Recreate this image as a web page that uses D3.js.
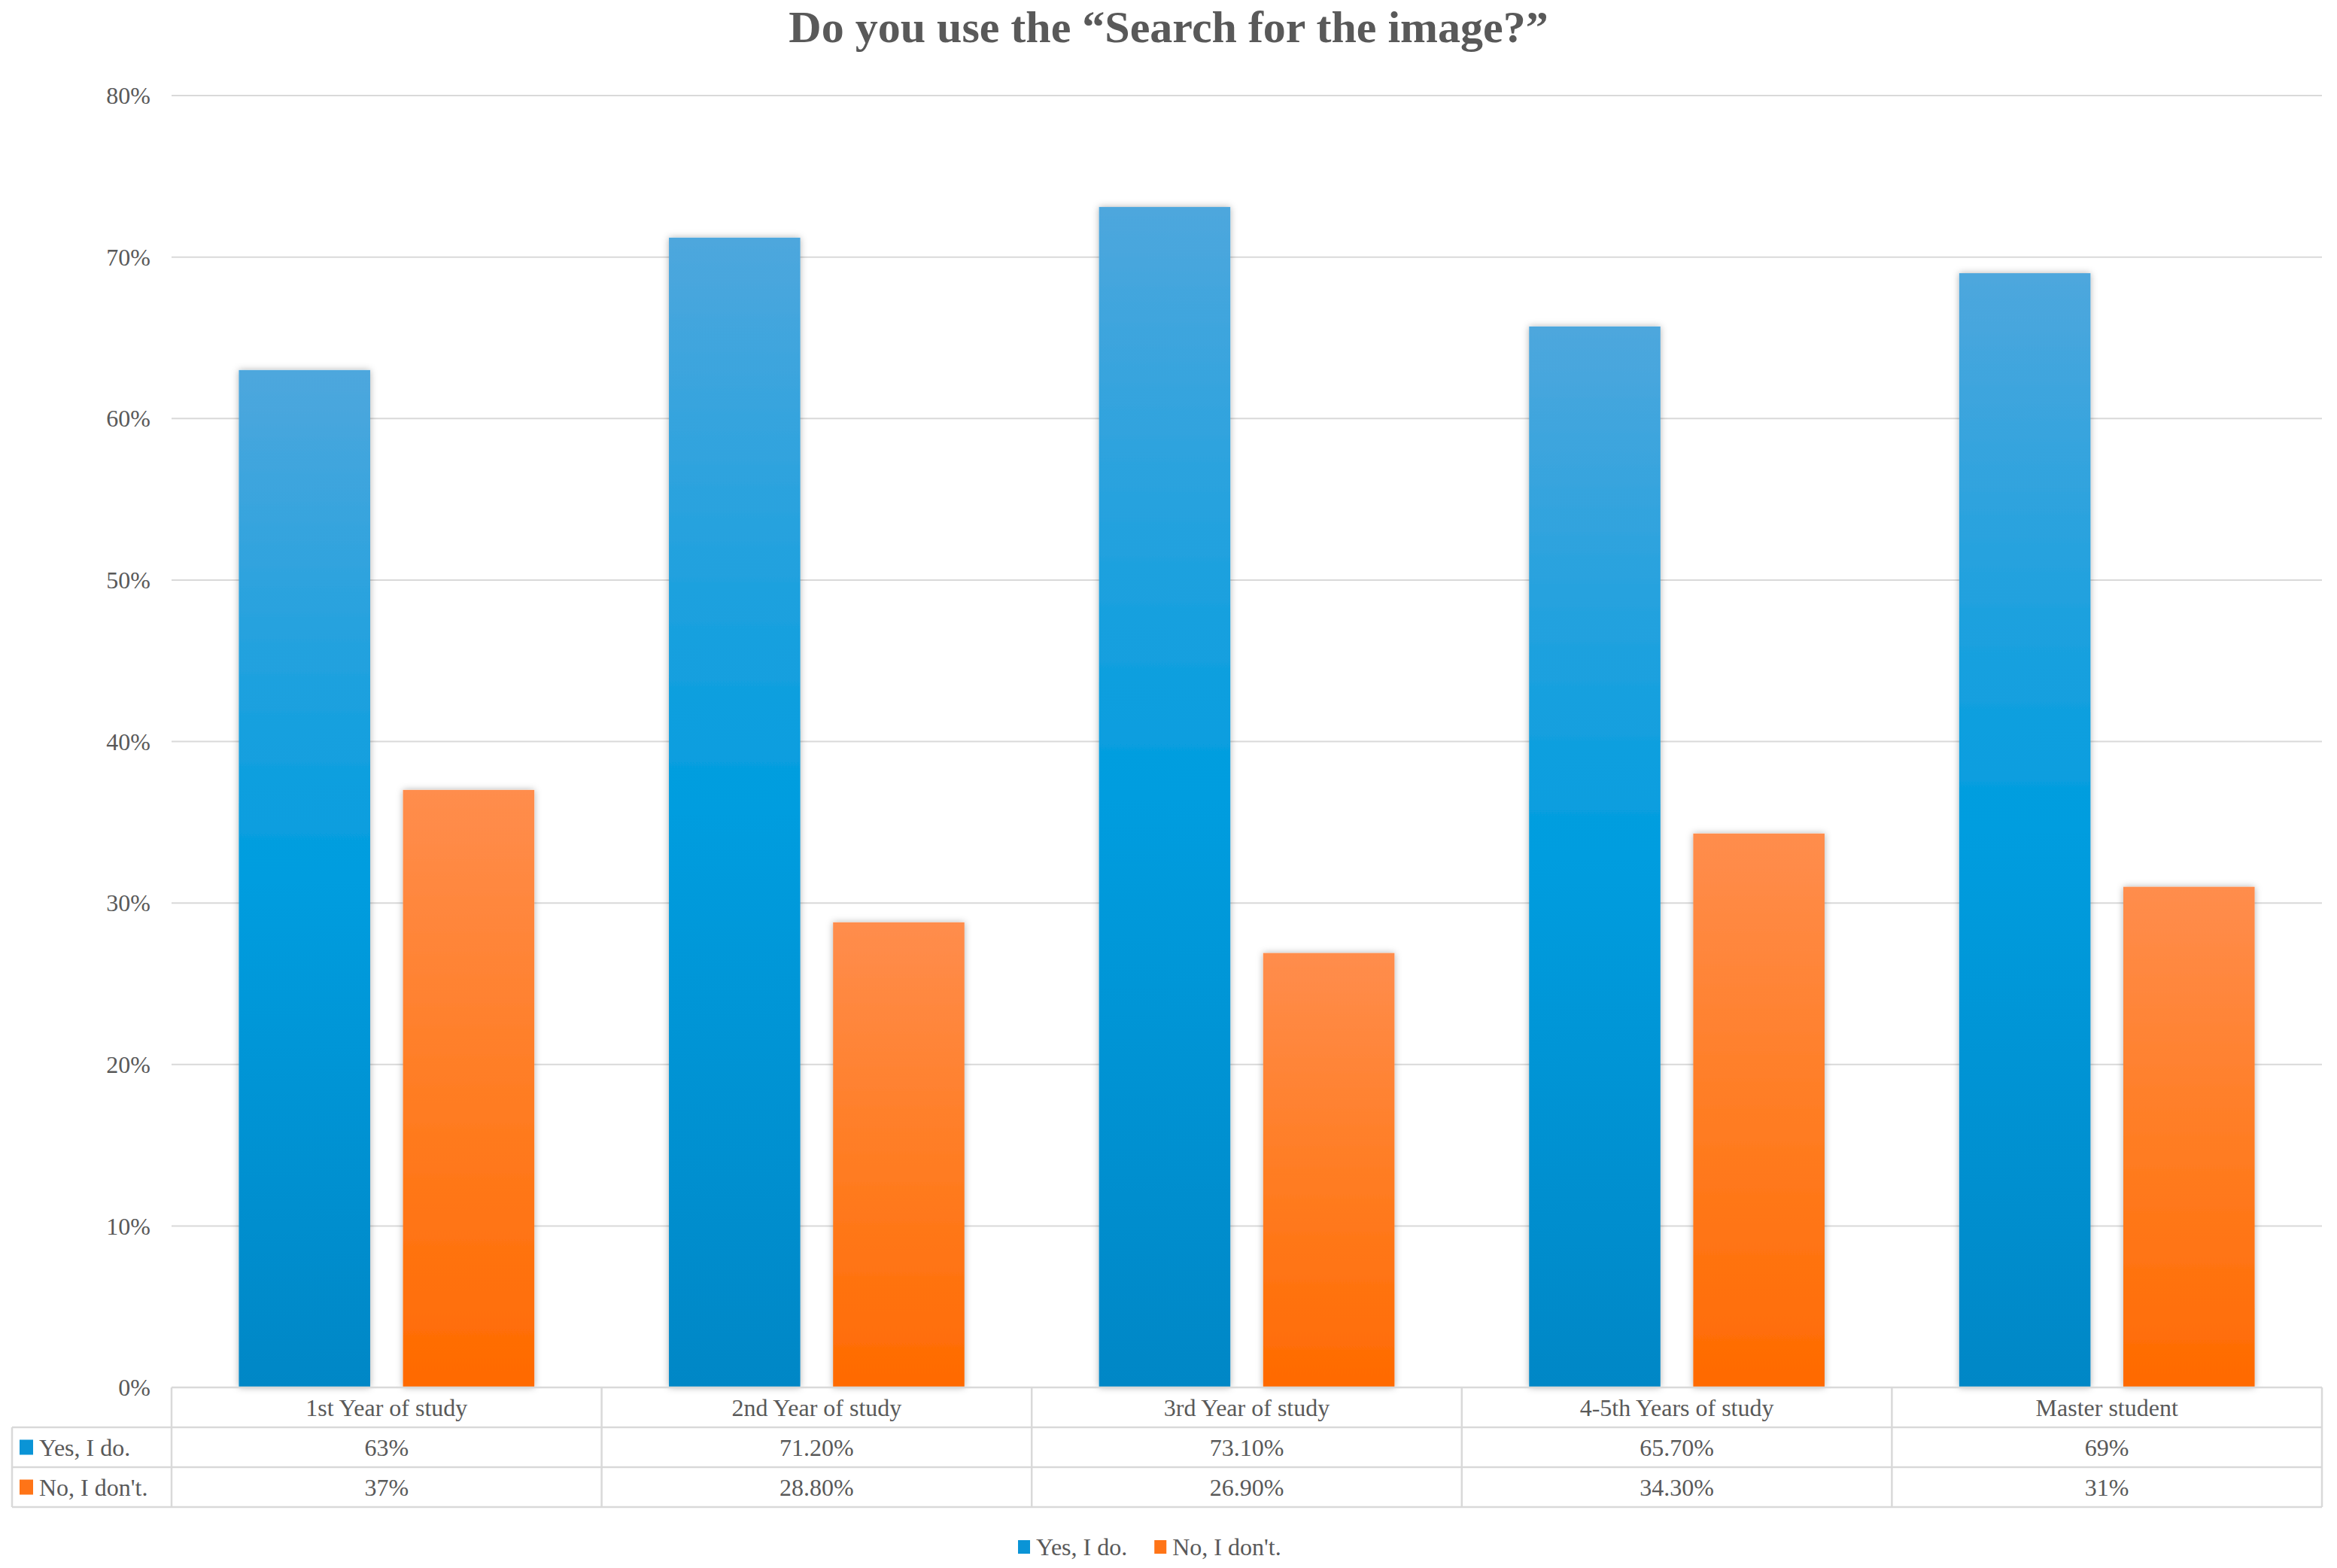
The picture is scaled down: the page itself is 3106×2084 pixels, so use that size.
<!DOCTYPE html>
<html><head><meta charset="utf-8">
<script src="https://cdn.jsdelivr.net/npm/d3@7"></script>
<style>body{margin:0;background:#fff}svg{font-family:"Liberation Serif","DejaVu Serif",serif}</style>
</head><body><div id="chart"></div>
<script>
const categories = ['1st Year of study', '2nd Year of study', '3rd Year of study', '4-5th Years of study', 'Master student']
const seriesNames = ['Yes, I do.', "No, I don't."]
const yesValues = [63, 71.2, 73.1, 65.7, 69]
const noValues = [37, 28.8, 26.9, 34.3, 31]
const yesLabels = ['63%', '71.20%', '73.10%', '65.70%', '69%']
const noLabels = ['37%', '28.80%', '26.90%', '34.30%', '31%']
const yTicks = [0, 10, 20, 30, 40, 50, 60, 70, 80]

const W = 3106, H = 2084
const plotLeft = 228, plotRight = 3086, plotTop = 127, plotBottom = 1844
const rowH = 53
const tableLeft = 16
const textColor = '#595959'
const grid = '#d9d9d9'

const svg = d3.select('#chart').append('svg').attr('width', W).attr('height', H)
const defs = svg.append('defs')
const grads = [
  ['gBlue', ['#4ea7dd', '#009ddf', '#0087c6']],
  ['gOrange', ['#ff8d4d', '#ff7d24', '#ff6a00']]
]
grads.forEach(([id, stops]) => {
  const g = defs.append('linearGradient').attr('id', id).attr('x1', 0).attr('x2', 0).attr('y1', 0).attr('y2', 1)
  stops.forEach((c, i) => g.append('stop').attr('offset', i / 2).attr('stop-color', c))
})
const f = defs.append('filter').attr('id', 'shadow').attr('x', '-20%').attr('width', '140%')
f.append('feDropShadow').attr('dx', 0).attr('dy', 0).attr('stdDeviation', 5).attr('flood-color', '#000').attr('flood-opacity', 0.3)

const x0 = d3.scaleBand().domain(categories).range([plotLeft, plotRight])
const x1 = d3.scaleBand().domain(seriesNames).range([0, x0.bandwidth()]).paddingInner(0.2).paddingOuter(0.41)
const y = d3.scaleLinear().domain([0, 80]).range([plotBottom, plotTop])

svg.append('text').attr('x', W / 2).attr('y', 56).attr('text-anchor', 'middle')
  .attr('font-size', 60).attr('font-weight', 'bold').attr('fill', textColor)
  .text('Do you use the \u201cSearch for the image?\u201d')

// gridlines
svg.append('g').selectAll('line').data(yTicks.slice(1)).join('line')
  .attr('x1', plotLeft).attr('x2', plotRight).attr('y1', d => y(d)).attr('y2', d => y(d))
  .attr('stroke', grid).attr('stroke-width', 2)
svg.append('g').selectAll('text').data(yTicks).join('text')
  .attr('x', plotLeft - 28).attr('y', d => y(d)).attr('dy', '0.35em').attr('text-anchor', 'end')
  .attr('font-size', 32).attr('fill', textColor).text(d => d + '%')

const series = [
  { name: seriesNames[0], values: yesValues, labels: yesLabels, fill: 'url(#gBlue)', color: '#0a94d6' },
  { name: seriesNames[1], values: noValues, labels: noLabels, fill: 'url(#gOrange)', color: '#ff7417' }
]
series.forEach(s => {
  svg.append('g').attr('filter', 'url(#shadow)').selectAll('rect').data(s.values).join('rect')
    .attr('x', (d, i) => x0(categories[i]) + x1(s.name))
    .attr('width', x1.bandwidth())
    .attr('y', d => y(d)).attr('height', d => y(0) - y(d))
    .attr('fill', s.fill)
})

// data table
const t = svg.append('g').attr('stroke', grid).attr('stroke-width', 2.5)
t.append('line').attr('x1', plotLeft).attr('x2', plotRight).attr('y1', plotBottom).attr('y2', plotBottom)
for (let r = 1; r <= 3; r++) {
  t.append('line').attr('x1', tableLeft).attr('x2', plotRight).attr('y1', plotBottom + r * rowH).attr('y2', plotBottom + r * rowH)
}
t.append('line').attr('x1', tableLeft).attr('x2', tableLeft).attr('y1', plotBottom + rowH).attr('y2', plotBottom + 3 * rowH)
categories.concat(['end']).forEach((c, i) => {
  const xx = i < categories.length ? x0(c) : plotRight
  t.append('line').attr('x1', xx).attr('x2', xx).attr('y1', plotBottom).attr('y2', plotBottom + 3 * rowH)
})
svg.append('g').selectAll('text').data(categories).join('text')
  .attr('x', d => x0(d) + x0.bandwidth() / 2).attr('y', plotBottom + rowH / 2).attr('dy', '0.35em')
  .attr('text-anchor', 'middle').attr('font-size', 32).attr('fill', textColor).text(d => d)
series.forEach((s, si) => {
  const ry = plotBottom + (si + 1) * rowH + rowH / 2
  svg.append('rect').attr('x', tableLeft + 10).attr('y', ry - 10).attr('width', 18).attr('height', 20).attr('fill', s.color)
  svg.append('text').attr('x', tableLeft + 36).attr('y', ry).attr('dy', '0.35em')
    .attr('font-size', 32).attr('fill', textColor).text(s.name)
  svg.append('g').selectAll('text').data(s.labels).join('text')
    .attr('x', (d, i) => x0(categories[i]) + x0.bandwidth() / 2).attr('y', ry).attr('dy', '0.35em')
    .attr('text-anchor', 'middle').attr('font-size', 32).attr('fill', textColor).text(d => d)
})

// legend
const leg = svg.append('g').attr('transform', `translate(${W / 2 - 200},2056)`)
let lx = 0
series.forEach(s => {
  leg.append('rect').attr('x', lx).attr('y', -9).attr('width', 16).attr('height', 18).attr('fill', s.color)
  const tx = leg.append('text').attr('x', lx + 24).attr('y', 0).attr('dy', '0.35em')
    .attr('font-size', 32).attr('fill', textColor).text(s.name)
  lx += 24 + tx.node().getComputedTextLength() + 36
})
</script></body></html>
